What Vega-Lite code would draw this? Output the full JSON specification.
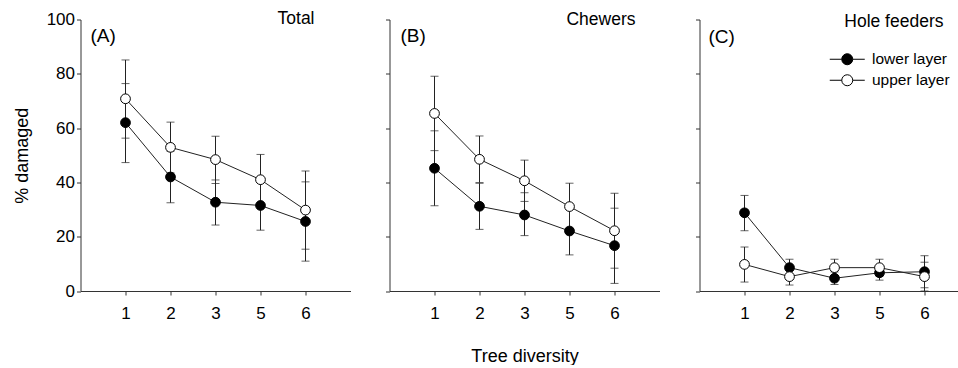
{
  "$schema": "https://vega.github.io/schema/vega-lite/v6.json",
  "padding": {"left": 12.5, "top": 9.5, "right": 0, "bottom": 0},
  "background": "white",
  "config": {
    "font": "Liberation Sans",
    "view": {"stroke": null},
    "axis": {"grid": false, "domainColor": "#333", "tickColor": "#333", "labelColor": "#000", "titleColor": "#000", "labelFontSize": 17, "titleFontSize": 18, "titleFontWeight": "normal", "tickSize": 4, "domainWidth": 1, "tickWidth": 1},
    "text": {"font": "Liberation Sans"}
  },
  "datasets": {
    "pts": [
      {"panel": "A", "layer": "lower layer", "div": "1", "mean": 62, "lo": 47.3, "hi": 76.4},
      {"panel": "A", "layer": "lower layer", "div": "2", "mean": 42, "lo": 32.5, "hi": 51.5},
      {"panel": "A", "layer": "lower layer", "div": "3", "mean": 32.7, "lo": 24.3, "hi": 40.9},
      {"panel": "A", "layer": "lower layer", "div": "5", "mean": 31.5, "lo": 22.4, "hi": 40.7},
      {"panel": "A", "layer": "lower layer", "div": "6", "mean": 25.6, "lo": 11, "hi": 40.2},
      {"panel": "A", "layer": "upper layer", "div": "1", "mean": 70.8, "lo": 56.3, "hi": 85.1},
      {"panel": "A", "layer": "upper layer", "div": "2", "mean": 52.9, "lo": 43.5, "hi": 62.2},
      {"panel": "A", "layer": "upper layer", "div": "3", "mean": 48.4, "lo": 39.6, "hi": 57},
      {"panel": "A", "layer": "upper layer", "div": "5", "mean": 41, "lo": 31.6, "hi": 50.3},
      {"panel": "A", "layer": "upper layer", "div": "6", "mean": 29.8, "lo": 15.4, "hi": 44.2},
      {"panel": "B", "layer": "lower layer", "div": "1", "mean": 45.2, "lo": 31.4, "hi": 59},
      {"panel": "B", "layer": "lower layer", "div": "2", "mean": 31.2, "lo": 22.7, "hi": 39.7},
      {"panel": "B", "layer": "lower layer", "div": "3", "mean": 28, "lo": 20.4, "hi": 36.2},
      {"panel": "B", "layer": "lower layer", "div": "5", "mean": 22.1, "lo": 13.3, "hi": 31},
      {"panel": "B", "layer": "lower layer", "div": "6", "mean": 16.7, "lo": 2.8, "hi": 30.5},
      {"panel": "B", "layer": "upper layer", "div": "1", "mean": 65.4, "lo": 51.7, "hi": 79.1},
      {"panel": "B", "layer": "upper layer", "div": "2", "mean": 48.5, "lo": 39.9, "hi": 57.1},
      {"panel": "B", "layer": "upper layer", "div": "3", "mean": 40.6, "lo": 33, "hi": 48.2},
      {"panel": "B", "layer": "upper layer", "div": "5", "mean": 31.1, "lo": 22.5, "hi": 39.7},
      {"panel": "B", "layer": "upper layer", "div": "6", "mean": 22.2, "lo": 8.4, "hi": 36},
      {"panel": "C", "layer": "lower layer", "div": "1", "mean": 28.8, "lo": 22.2, "hi": 35.2},
      {"panel": "C", "layer": "lower layer", "div": "2", "mean": 8.6, "lo": 5.5, "hi": 11.7},
      {"panel": "C", "layer": "lower layer", "div": "3", "mean": 4.7, "lo": 2.4, "hi": 7},
      {"panel": "C", "layer": "lower layer", "div": "5", "mean": 6.7, "lo": 4, "hi": 9.4},
      {"panel": "C", "layer": "lower layer", "div": "6", "mean": 7.1, "lo": 1.2, "hi": 13},
      {"panel": "C", "layer": "upper layer", "div": "1", "mean": 9.8, "lo": 3.3, "hi": 16.2},
      {"panel": "C", "layer": "upper layer", "div": "2", "mean": 5.3, "lo": 2.2, "hi": 8.4},
      {"panel": "C", "layer": "upper layer", "div": "3", "mean": 8.6, "lo": 5.5, "hi": 11.7},
      {"panel": "C", "layer": "upper layer", "div": "5", "mean": 8.6, "lo": 5.5, "hi": 11.7},
      {"panel": "C", "layer": "upper layer", "div": "6", "mean": 5.3, "lo": 0, "hi": 10.6}
    ],
    "labels": [
      {"panel": "A", "tag": "(A)", "name": "Total"},
      {"panel": "B", "tag": "(B)", "name": "Chewers"},
      {"panel": "C", "tag": "(C)", "name": "Hole feeders"}
    ]
  },
  "resolve": {"scale": {"fill": "independent"}, "legend": {"fill": "independent"}},
  "spacing": 35,
  "hconcat": [
    {
      "spacing": 34,
      "resolve": {"scale": {"fill": "independent"}, "legend": {"fill": "independent"}},
      "hconcat": [
        {
          "width": 270, "height": 271.5,
          "layer": [
            {
              "data": {"name": "pts"},
              "transform": [{"filter": "datum.panel == 'A'"}],
              "encoding": {
                "x": {"field": "div", "type": "ordinal", "scale": {"type": "point", "domain": ["1","2","3","5","6"], "padding": 1}, "axis": {"labelAngle": 0, "title": null, "labelPadding": 10}}
              },
              "layer": [
                {"mark": {"type": "rule", "color": "#222", "strokeWidth": 1}, "encoding": {"y": {"field": "lo", "type": "quantitative", "title": "% damaged", "scale": {"domain": [0, 100], "nice": false}, "axis": {"values": [0,20,40,60,80,100], "labelPadding": 2, "titlePadding": 15}}, "y2": {"field": "hi"}}},
                {"mark": {"type": "tick", "color": "#222", "size": 8, "thickness": 1}, "encoding": {"y": {"field": "lo", "type": "quantitative", "title": "% damaged"}}},
                {"mark": {"type": "tick", "color": "#222", "size": 8, "thickness": 1}, "encoding": {"y": {"field": "hi", "type": "quantitative", "title": "% damaged"}}},
                {"mark": {"type": "line", "color": "#222", "strokeWidth": 1}, "encoding": {"y": {"field": "mean", "type": "quantitative", "title": "% damaged"}, "detail": {"field": "layer"}}},
                {"mark": {"type": "point", "shape": "circle", "filled": true, "size": 95, "stroke": "#000", "strokeWidth": 1, "opacity": 1}, "encoding": {"y": {"field": "mean", "type": "quantitative", "title": "% damaged"}, "fill": {"field": "layer", "type": "nominal", "scale": {"domain": ["lower layer", "upper layer"], "range": ["#000", "#fff"]}, "legend": null}}}
              ]
            },
            {
              "data": {"name": "labels"},
              "transform": [{"filter": "datum.panel == 'A'"}],
              "layer": [
                {"mark": {"type": "text", "fontSize": 19, "align": "left", "baseline": "alphabetic", "dx": -35, "dy": 22}, "encoding": {"x": {"datum": "1"}, "y": {"datum": 100}, "text": {"field": "tag"}}},
                {"mark": {"type": "text", "fontSize": 17.5, "align": "right", "baseline": "alphabetic", "dx": 9, "dy": 4}, "encoding": {"x": {"datum": "6"}, "y": {"datum": 100}, "text": {"field": "name"}}}
              ]
            }
          ]
        },
        {
          "width": 270, "height": 271.5,
          "layer": [
            {
              "data": {"name": "pts"},
              "transform": [{"filter": "datum.panel == 'B'"}],
              "encoding": {
                "x": {"field": "div", "type": "ordinal", "scale": {"type": "point", "domain": ["1","2","3","5","6"], "padding": 1}, "axis": {"labelAngle": 0, "title": "Tree diversity", "labelPadding": 10, "titlePadding": 26}}
              },
              "layer": [
                {"mark": {"type": "rule", "color": "#222", "strokeWidth": 1}, "encoding": {"y": {"field": "lo", "type": "quantitative", "title": null, "scale": {"domain": [0, 100], "nice": false}, "axis": {"values": [0,20,40,60,80,100], "labels": false}}, "y2": {"field": "hi"}}},
                {"mark": {"type": "tick", "color": "#222", "size": 8, "thickness": 1}, "encoding": {"y": {"field": "lo", "type": "quantitative", "title": null}}},
                {"mark": {"type": "tick", "color": "#222", "size": 8, "thickness": 1}, "encoding": {"y": {"field": "hi", "type": "quantitative", "title": null}}},
                {"mark": {"type": "line", "color": "#222", "strokeWidth": 1}, "encoding": {"y": {"field": "mean", "type": "quantitative", "title": null}, "detail": {"field": "layer"}}},
                {"mark": {"type": "point", "shape": "circle", "filled": true, "size": 95, "stroke": "#000", "strokeWidth": 1, "opacity": 1}, "encoding": {"y": {"field": "mean", "type": "quantitative", "title": null}, "fill": {"field": "layer", "type": "nominal", "scale": {"domain": ["lower layer", "upper layer"], "range": ["#000", "#fff"]}, "legend": null}}}
              ]
            },
            {
              "data": {"name": "labels"},
              "transform": [{"filter": "datum.panel == 'B'"}],
              "layer": [
                {"mark": {"type": "text", "fontSize": 19, "align": "left", "baseline": "alphabetic", "dx": -34, "dy": 22}, "encoding": {"x": {"datum": "1"}, "y": {"datum": 100}, "text": {"field": "tag"}}},
                {"mark": {"type": "text", "fontSize": 17.5, "align": "right", "baseline": "alphabetic", "dx": 21, "dy": 5}, "encoding": {"x": {"datum": "6"}, "y": {"datum": 100}, "text": {"field": "name"}}}
              ]
            }
          ]
        }
      ]
    },
    {
      "width": 270, "height": 271.5,
      "layer": [
        {
          "data": {"name": "pts"},
          "transform": [{"filter": "datum.panel == 'C'"}],
          "encoding": {
            "x": {"field": "div", "type": "ordinal", "scale": {"type": "point", "domain": ["1","2","3","5","6"], "padding": 1}, "axis": {"labelAngle": 0, "title": null, "labelPadding": 10}}
          },
          "layer": [
            {"mark": {"type": "rule", "color": "#222", "strokeWidth": 1}, "encoding": {"y": {"field": "lo", "type": "quantitative", "title": null, "scale": {"domain": [0, 100], "nice": false}, "axis": {"values": [0,20,40,60,80,100], "labels": false}}, "y2": {"field": "hi"}}},
            {"mark": {"type": "tick", "color": "#222", "size": 8, "thickness": 1}, "encoding": {"y": {"field": "lo", "type": "quantitative", "title": null}}},
            {"mark": {"type": "tick", "color": "#222", "size": 8, "thickness": 1}, "encoding": {"y": {"field": "hi", "type": "quantitative", "title": null}}},
            {"mark": {"type": "line", "color": "#222", "strokeWidth": 1}, "encoding": {"y": {"field": "mean", "type": "quantitative", "title": null}, "detail": {"field": "layer"}}},
            {"mark": {"type": "point", "shape": "circle", "filled": true, "size": 95, "stroke": "#000", "strokeWidth": 1, "opacity": 1}, "encoding": {"y": {"field": "mean", "type": "quantitative", "title": null}, "fill": {"field": "layer", "type": "nominal", "scale": {"domain": ["lower layer", "upper layer"], "range": ["#000", "#fff"]}, "legend": {"orient": "none", "legendX": 140, "legendY": 32, "title": null, "padding": 0, "symbolType": "M-3.5,0L-1.1,0M1.1,0L3.5,0M1.1,0A1.1,1.1,0,1,1,-1.1,0A1.1,1.1,0,1,1,1.1,0Z", "symbolSize": 100, "symbolStrokeColor": "#000", "symbolStrokeWidth": 1, "labelFontSize": 15.5, "labelOffset": 17, "rowPadding": 4, "labelColor": "#000"}}}}
          ]
        },
        {
          "data": {"name": "labels"},
          "transform": [{"filter": "datum.panel == 'C'"}],
          "layer": [
            {"mark": {"type": "text", "fontSize": 19, "align": "left", "baseline": "alphabetic", "dx": -36, "dy": 23}, "encoding": {"x": {"datum": "1"}, "y": {"datum": 100}, "text": {"field": "tag"}}},
            {"mark": {"type": "text", "fontSize": 17.5, "align": "right", "baseline": "alphabetic", "dx": 19, "dy": 7}, "encoding": {"x": {"datum": "6"}, "y": {"datum": 100}, "text": {"field": "name"}}}
          ]
        }
      ]
    }
  ]
}
